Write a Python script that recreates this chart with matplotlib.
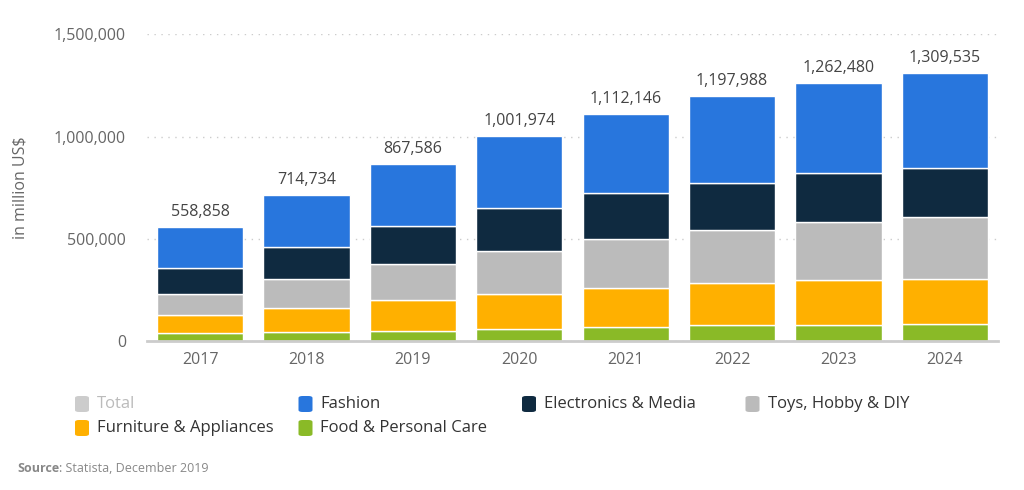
import matplotlib
matplotlib.use("Agg")
import matplotlib.pyplot as plt
from matplotlib.patches import FancyBboxPatch
import numpy as np

years = ["2017", "2018", "2019", "2020", "2021", "2022", "2023", "2024"]
totals = [558858, 714734, 867586, 1001974, 1112146, 1197988, 1262480, 1309535]
food = [39000, 44000, 50500, 58800, 68600, 78400, 80000, 85000]
furniture = [90000, 118000, 150500, 173000, 188400, 207600, 219000, 219000]
toys = [103000, 142000, 175000, 208000, 240500, 258000, 284000, 304000]
electronics = [124000, 155000, 186000, 210000, 225500, 230500, 237000, 238500]
fashion = [t - a - b - c - d for t, a, b, c, d in zip(totals, food, furniture, toys, electronics)]

series_names = ["Food & Personal Care", "Furniture & Appliances", "Toys, Hobby & DIY",
                "Electronics & Media", "Fashion"]
series_values = [food, furniture, toys, electronics, fashion]
series_colors = ["#8aba27", "#ffb000", "#bbbbbb", "#0f2a40", "#2876dd"]

legend_names = ["Total", "Fashion", "Electronics & Media", "Toys, Hobby & DIY",
                "Furniture & Appliances", "Food & Personal Care"]
legend_colors = ["#cccccc", "#2876dd", "#0f2a40", "#bbbbbb", "#ffb000", "#8aba27"]

yticks = [0, 500000, 1000000, 1500000]

plt.rcParams['font.family'] = ['Open Sans', 'DejaVu Sans']

W, H = 1024, 490
fig = plt.figure(figsize=(W / 100, H / 100), dpi=100)
ax_w = 998 - 147
ax = fig.add_axes([147 / W, 1 - 341 / H, ax_w / W, (341 - 34.3) / H])

x = np.arange(len(years))
bottom = np.zeros(len(years))
for name, vals, col in zip(series_names, series_values, series_colors):
    ax.bar(x, vals, bottom=bottom, width=0.81, color=col, edgecolor="white",
           linewidth=1.0, zorder=3, label=name)
    bottom += np.array(vals)

for xi, t in zip(x, totals):
    ax.annotate(f"{t:,}", (xi, t), xytext=(0, 5), textcoords="offset points",
                ha="center", va="bottom", fontsize=11.5, color="#444444", zorder=4)

ax.set_xlim(-0.5, len(years) - 0.5)
ax.set_ylim(0, 1500000)
ax.set_yticks(yticks)
ax.set_yticklabels([f"{v:,}" for v in yticks])
ax.set_xticks(x)
ax.set_xticklabels(years)
ax.tick_params(axis="both", length=0, labelsize=11.5, labelcolor="#666666")
ax.tick_params(axis="y", pad=15)
ax.tick_params(axis="x", pad=8)
for s in ["top", "right", "left"]:
    ax.spines[s].set_visible(False)
ax.spines["bottom"].set_color("#cccccc")
ax.spines["bottom"].set_linewidth(2)
ax.spines["bottom"].set_zorder(5)
ax.yaxis.grid(True, linestyle=(0, (1, 4)), color="#cccccc", linewidth=1)
ax.set_axisbelow(True)
ax.set_ylabel("in million US$", fontsize=11.5, color="#666666")
ax.yaxis.set_label_coords(-(147 - 29) / ax_w, 0.5)

# custom legend grid
for i, (name, col) in enumerate(zip(legend_names, legend_colors)):
    c, r = i % 4, i // 4
    px = 75 + c * 223.5
    py = 404 + r * 24
    patch = FancyBboxPatch(((px) / W, 1 - (py + 8) / H), 14 / W, 16 / H,
                           boxstyle="round,pad=0,rounding_size=0.004",
                           transform=fig.transFigure, facecolor=col,
                           edgecolor="none")
    fig.patches.append(patch)
    fig.text((px + 22) / W, 1 - py / H, name, fontsize=12,
             color="#bbbbbb" if name == "Total" else "#333333",
             va="center", ha="left")

t1 = fig.text(17 / W, 1 - 468 / H, "Source", fontsize=9, color="#888888",
              fontweight="bold", va="center", ha="left")
fig.canvas.draw()
bb = t1.get_window_extent()
fig.text(bb.x1 / W, 1 - 468 / H, ": Statista, December 2019", fontsize=9,
         color="#888888", va="center", ha="left")

fig.savefig("out.png", dpi=100)
